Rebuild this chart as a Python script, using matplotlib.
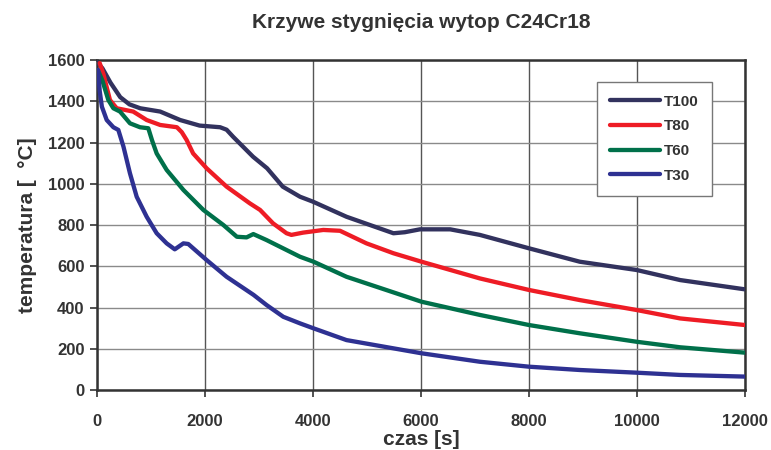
import matplotlib
matplotlib.use("Agg")
import matplotlib.pyplot as plt

plt.rcParams['font.family'] = ['Liberation Sans', 'DejaVu Sans']

title = "Krzywe stygnięcia wytop C24Cr18"
xlabel = "czas [s]"
ylabel = "temperatura [  °C]"
series_names = ["T100", "T80", "T60", "T30"]
colors = ["#32325E", "#EE1C25", "#00704A", "#2E3192"]

t100_x = [0, 100, 250, 430, 600, 800, 1170, 1540, 1900, 2280, 2400, 2520, 2890, 3150, 3440, 3760,
          4000, 4620, 5000, 5490, 5700, 5980, 6540, 7090, 8000, 8940, 9990, 10800, 12000]
t100_y = [1590, 1560, 1490, 1420, 1385, 1366, 1350, 1309, 1282, 1274, 1262, 1228, 1131, 1075, 986, 937,
          913, 840, 805, 760, 765, 779, 779, 752, 687, 622, 582, 533, 488]

t80_x = [50, 120, 240, 365, 670, 920, 1170, 1480, 1570, 1660, 1780, 2030, 2400, 2830, 3020, 3260, 3510,
         3600, 3815, 4190, 4500, 4990, 5490, 6010, 7090, 8000, 8940, 9990, 10800, 12000]
t80_y = [1585, 1530, 1406, 1366, 1350, 1309, 1285, 1274, 1250, 1212, 1147, 1075, 986, 905, 873, 808, 760,
         752, 763, 776, 772, 711, 663, 622, 541, 485, 436, 388, 347, 315]

t60_x = [30, 100, 210, 303, 426, 611, 796, 950, 1020, 1105, 1290, 1600, 1970, 2340, 2590, 2770, 2895,
         3140, 3760, 4010, 4620, 6010, 7090, 8000, 8940, 9990, 10800, 12000]
t60_y = [1543, 1500, 1406, 1366, 1350, 1293, 1274, 1269, 1210, 1147, 1067, 970, 873, 800, 743, 740, 756,
         727, 646, 622, 549, 428, 364, 315, 275, 234, 207, 181]

t30_x = [20, 50, 90, 180, 303, 395, 490, 610, 735, 920, 1105, 1290, 1440, 1600, 1690, 2030, 2400, 2900,
         3140, 3450, 3760, 4010, 4620, 6010, 7090, 8000, 8940, 9990, 10800, 12000]
t30_y = [1552, 1450, 1374, 1309, 1274, 1261, 1180, 1051, 937, 840, 760, 711, 682, 711, 708, 630, 549, 461,
         412, 355, 323, 299, 242, 178, 137, 113, 97, 84, 73, 65]

xticks = [0, 2000, 4000, 6000, 8000, 10000, 12000]
yticks = [0, 200, 400, 600, 800, 1000, 1200, 1400, 1600]

series = [(t100_x, t100_y), (t80_x, t80_y), (t60_x, t60_y), (t30_x, t30_y)]

fig = plt.figure(figsize=(7.71, 4.5), dpi=100)
ax = fig.add_axes([97/771, 1-390/450, (745-97)/771, (390-60)/450])

for (xs, ys), name, c in zip(series, series_names, colors):
    ax.plot(xs, ys, color=c, lw=3.1, label=name, solid_capstyle='round',
            solid_joinstyle='round', zorder=3)

ax.set_xlim(0, 12000)
ax.set_ylim(0, 1600)
ax.set_xticks(xticks)
ax.set_yticks(yticks)
ax.set_xticklabels([str(v) for v in xticks], fontsize=12, fontweight='bold', color='#333333')
ax.set_yticklabels([str(v) for v in yticks], fontsize=12, fontweight='bold', color='#333333')
ax.tick_params(axis='x', direction='out', length=5, width=1.2, color='#333333', pad=12)
ax.tick_params(axis='y', direction='out', length=5, width=1.2, color='#333333', pad=4)

ax.xaxis.grid(True, color='#555555', lw=1.0, zorder=1)
ax.yaxis.grid(True, color='#8a8a8a', lw=1.0, zorder=1)
ax.set_axisbelow(True)
for s in ax.spines.values():
    s.set_color('#333333')
    s.set_linewidth(1.8)

ax.set_xlabel(xlabel, fontsize=15, fontweight='bold', color='#333333', labelpad=1)
ax.set_ylabel(ylabel, fontsize=15, fontweight='bold', color='#333333', labelpad=8)
fig.text(421/771, 1-22/450, title, ha='center', va='center', fontsize=15,
         fontweight='bold', color='#333333')

leg = ax.legend(loc='upper left', bbox_to_anchor=(596.7/771, 1-81.7/450),
                bbox_transform=fig.transFigure, borderaxespad=0, fancybox=False,
                framealpha=1, edgecolor='#777777', handlelength=3.3, handletextpad=0.25,
                labelspacing=0.7, borderpad=0.85,
                prop={'size': 11, 'weight': 'bold'})
leg.get_frame().set_linewidth(1.0)
for t in leg.get_texts():
    t.set_color('#333333')

fig.savefig("out.png", dpi=100)
